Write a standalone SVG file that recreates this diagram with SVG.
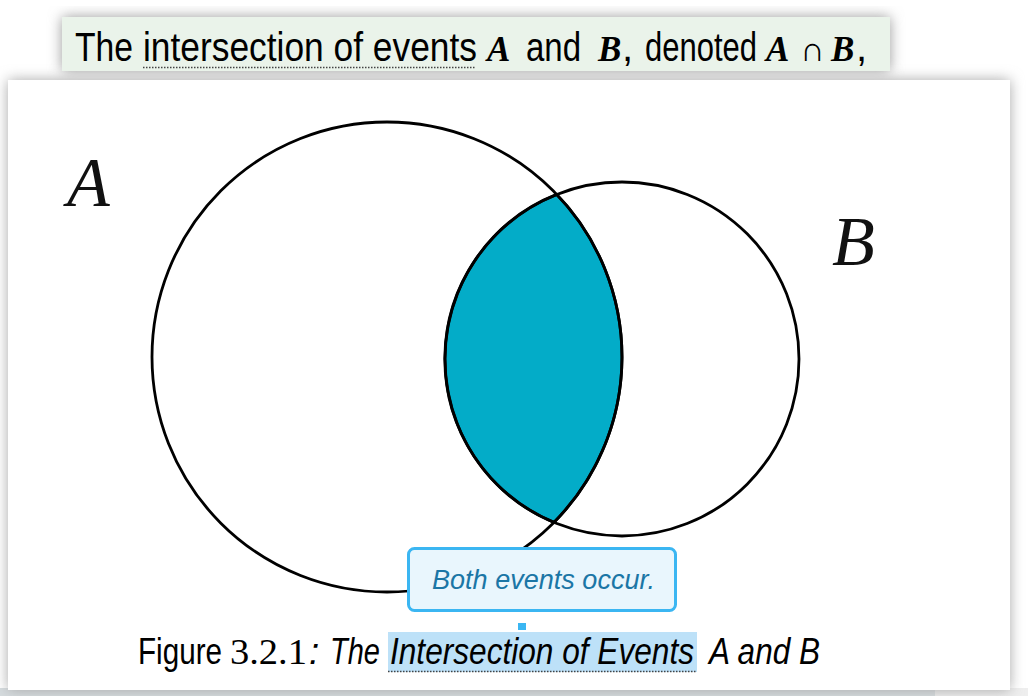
<svg xmlns="http://www.w3.org/2000/svg" width="1028" height="696" viewBox="0 0 1028 696">
  <defs>
    <filter id="sh" x="-10%" y="-20%" width="120%" height="140%">
      <feGaussianBlur stdDeviation="7"/>
    </filter>
    <style>
      .sans { font-family: "Liberation Sans", "DejaVu Sans", sans-serif; fill: #000; }
      .serif { font-family: "Liberation Serif", "DejaVu Serif", serif; fill: #000; }
      .mathb { font-family: "Liberation Serif", "DejaVu Serif", serif; font-style: italic; font-weight: bold; fill: #000; }
      .lbl { font-family: "Liberation Serif", "DejaVu Serif", serif; font-style: italic; fill: #111; font-size: 70px; }
      .it { font-style: italic; }
      .circ { fill: none; stroke: #000; stroke-width: 2.8; }
      .dots { stroke: #444; stroke-width: 1.5; stroke-dasharray: 1.5 1.5; }
    </style>
  </defs>

  <!-- page background and shadows -->
  <rect x="0" y="0" width="1028" height="696" fill="#ffffff"/>
  <rect x="0" y="688" width="935" height="8" fill="#d5dbde"/>
  <rect x="935" y="688" width="93" height="8" fill="#eeeeee"/>
  <rect x="62" y="17" width="828" height="54" fill="#9a9a9a" filter="url(#sh)"/>
  <rect x="8" y="80" width="1002" height="610" fill="#a8a8a8" filter="url(#sh)"/>

  <!-- top banner -->
  <g id="banner">
    <rect x="62" y="17" width="828" height="54" fill="#eaf3ea"/>
    <text class="sans" x="75" y="61" font-size="40" textLength="58" lengthAdjust="spacingAndGlyphs">The</text>
    <text class="sans" x="143" y="61" font-size="40" textLength="334" lengthAdjust="spacingAndGlyphs">intersection of events</text>
    <line class="dots" x1="143" y1="67.5" x2="476" y2="67.5"/>
    <text class="mathb" x="487" y="61" font-size="35">A</text>
    <text class="sans" x="526" y="61" font-size="40" textLength="55" lengthAdjust="spacingAndGlyphs">and</text>
    <text class="mathb" x="598" y="61" font-size="35">B</text>
    <text class="sans" x="622" y="61" font-size="40">,</text>
    <text class="sans" x="645" y="61" font-size="40" textLength="112" lengthAdjust="spacingAndGlyphs">denoted</text>
    <text class="mathb" x="766" y="61" font-size="35">A</text>
    <text class="serif" x="800" y="61" font-size="34">∩</text>
    <text class="mathb" x="831" y="61" font-size="35">B</text>
    <text class="sans" x="856" y="61" font-size="40">,</text>
  </g>

  <!-- figure panel -->
  <rect x="8" y="80" width="1002" height="610" fill="#ffffff"/>

  <g id="intersection">
    <path d="M556.7,194.4 A177,177 0 0,0 553.9,522.4 A235,235 0 0,0 556.7,194.4 Z" fill="#03acc8" stroke="#000" stroke-width="2.8"/>
  </g>
  <g id="circleA">
    <circle class="circ" cx="387" cy="357" r="235"/>
    <text class="lbl" x="67" y="206">A</text>
  </g>
  <g id="circleB">
    <circle class="circ" cx="622" cy="359" r="177"/>
    <text class="lbl" x="832" y="265">B</text>
  </g>

  <!-- connectors -->
  <g id="connectors">
    <rect x="518" y="623" width="8" height="7" fill="#3bb6f2"/>
  </g>

  <g id="tooltip">
    <rect x="408.5" y="548.5" width="267" height="62" rx="6" ry="6" fill="#e9f6fd" stroke="#3bb6f2" stroke-width="3"/>
    <text class="sans it" x="432" y="589" font-size="27" textLength="223" lengthAdjust="spacingAndGlyphs" style="fill:#1b76a6">Both events occur.</text>
  </g>

  <!-- caption -->
  <g id="caption">
    <rect x="388" y="632" width="309" height="40" fill="#bde1f8"/>
    <line class="dots" x1="388" y1="671.5" x2="697" y2="671.5"/>
    <text class="sans" x="138" y="664" font-size="37" textLength="84" lengthAdjust="spacingAndGlyphs">Figure</text>
    <text class="serif" x="230" y="664" font-size="36" textLength="77" lengthAdjust="spacingAndGlyphs">3.2.1</text>
    <text class="sans it" x="309" y="664" font-size="37">:</text>
    <text class="sans it" x="330" y="664" font-size="37" textLength="50" lengthAdjust="spacingAndGlyphs">The</text>
    <text class="sans it" x="390" y="664" font-size="37" textLength="304" lengthAdjust="spacingAndGlyphs">Intersection of Events</text>
    <text class="sans it" x="709" y="664" font-size="37" textLength="111" lengthAdjust="spacingAndGlyphs">A and B</text>
  </g>
</svg>
